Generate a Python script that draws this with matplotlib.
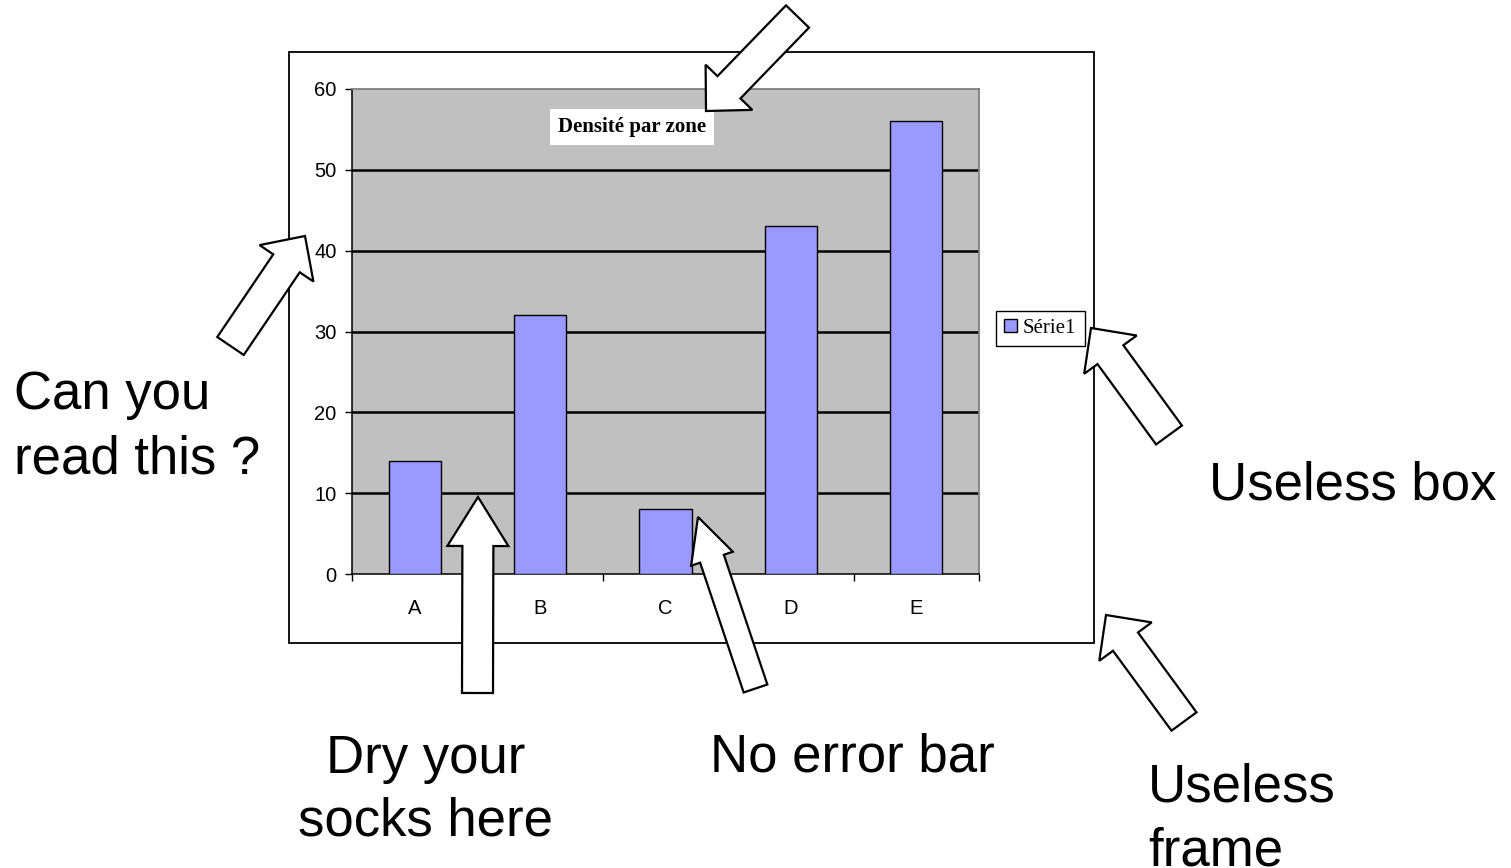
import matplotlib
matplotlib.use("Agg")
import matplotlib.pyplot as plt
from matplotlib.patches import FancyArrow, Rectangle
import numpy as np

plt.rcParams['font.family'] = ['Liberation Sans', 'DejaVu Sans']

# data
categories = ["A", "B", "C", "D", "E"]
values = [14, 32, 8, 43, 56]
yticks = [0, 10, 20, 30, 40, 50, 60]

W, H = 1511, 868
fig = plt.figure(figsize=(W / 100, H / 100), dpi=100)
fig.patch.set_facecolor("white")

# background layer: the useless frame
bg = fig.add_axes([0, 0, 1, 1], zorder=0)
bg.set_xlim(0, W)
bg.set_ylim(H, 0)
bg.axis("off")
bg.add_patch(Rectangle((289, 52), 805, 591, facecolor="white",
                       edgecolor="black", linewidth=1.3))

# chart
ax = fig.add_axes([352 / W, 1 - 574 / H, (979 - 352) / W, (574 - 89) / H], zorder=1)
ax.set_facecolor("#C0C0C0")
x = np.arange(len(categories))
ax.bar(x, values, width=0.415, color="#9999FF", edgecolor="black",
       linewidth=1.0, label="Série1", zorder=3)
ax.set_xlim(-0.5, len(categories) - 0.5)
ax.set_ylim(0, 60)
ax.set_yticks(yticks)
ax.set_yticklabels([str(t) for t in yticks], fontsize=14.5)
ax.set_xticks(x)
ax.set_xticklabels(categories, fontsize=14.5)
ax.set_xticks(np.arange(-0.5, len(categories), 1.0), minor=True)
ax.tick_params(axis="x", which="major", length=0, pad=18)
ax.tick_params(axis="x", which="minor", length=5, width=1.0, direction="out")
ax.tick_params(axis="y", length=5, width=1.0, direction="out", pad=6)
for t in yticks[1:-1]:
    ax.axhline(t, color="black", linewidth=1.8, zorder=2)
for s in ["left", "bottom"]:
    ax.spines[s].set_color("black")
    ax.spines[s].set_linewidth(1.1)
for s in ["top", "right"]:
    ax.spines[s].set_color("#808080")
    ax.spines[s].set_linewidth(1.3)

leg = ax.legend(loc="center left", bbox_to_anchor=(996 / W, 1 - 328.5 / H),
                bbox_transform=fig.transFigure, frameon=True, fancybox=False,
                framealpha=1, edgecolor="black", handlelength=0.6,
                handleheight=0.6, handletextpad=0.3, borderpad=0.4,
                borderaxespad=0,
                prop={"family": "Liberation Serif", "size": 15})
leg.get_frame().set_linewidth(1.0)

# overlay: title, arrows and comments
ov = fig.add_axes([0, 0, 1, 1], zorder=2)
ov.set_xlim(0, W)
ov.set_ylim(H, 0)
ov.axis("off")
ov.patch.set_alpha(0)

ov.text(632, 127, "Densité par zone", ha="center", va="center",
        family="Liberation Serif", fontweight="bold", fontsize=15,
        bbox=dict(facecolor="white", edgecolor="none", pad=6), zorder=3)

# (tail, tip, shaft width, head width, head length)
arrows = [
    ((797.5, 16.5), (706, 111), 32, 65, 33),
    ((230.5, 346), (305, 236), 32, 65, 33),
    ((477.5, 693), (478, 497), 31, 61, 49),
    ((755.5, 688.5), (698, 517), 25, 44, 44),
    ((1169, 435), (1091, 328), 32, 65, 33),
    ((1184, 721.5), (1106, 615), 31, 65, 33),
]
for (tx, ty), (hx, hy), w, hw, hl in arrows:
    ov.add_patch(FancyArrow(tx, ty, hx - tx, hy - ty, width=w,
                            length_includes_head=True, head_width=hw,
                            head_length=hl, facecolor="white",
                            edgecolor="black", linewidth=1.6,
                            joinstyle="miter", zorder=5))

fs = 38
ov.text(14, 409, "Can you", fontsize=fs, va="baseline", ha="left")
ov.text(14, 473, "read this ?", fontsize=fs, va="baseline", ha="left")
ov.text(1209, 499, "Useless box", fontsize=fs, va="baseline", ha="left")
ov.text(426, 773, "Dry your", fontsize=fs, va="baseline", ha="center")
ov.text(426, 836, "socks here", fontsize=fs, va="baseline", ha="center")
ov.text(710, 772, "No error bar", fontsize=fs, va="baseline", ha="left")
ov.text(1148, 802, "Useless", fontsize=fs, va="baseline", ha="left")
ov.text(1148, 866, "frame", fontsize=fs, va="baseline", ha="left")

fig.savefig("out.png", dpi=100)
